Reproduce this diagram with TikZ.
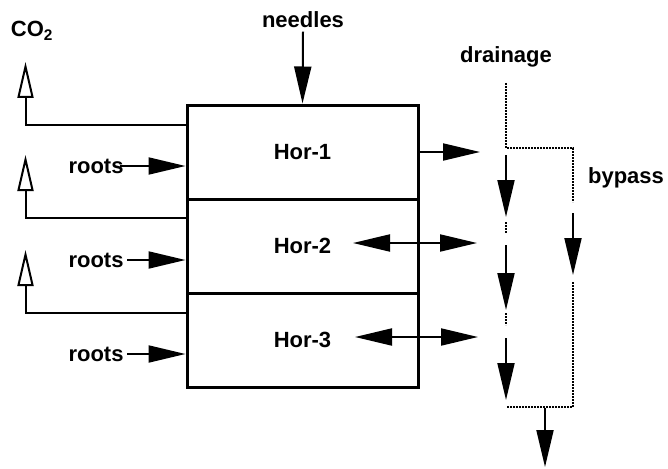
\documentclass[tikz,border=0pt]{standalone}
\usepackage{fontspec}
\setmainfont{Liberation Sans}
\usetikzlibrary{arrows.meta}
\tikzset{
	hor/.style={draw,line width=3pt,minimum width=231pt,minimum height=94pt,inner sep=0pt,name=#1},
	lbl/.style={font=\fontsize{22}{24}\selectfont\bfseries},
	flow/.style={line width=2pt,-{Triangle[length=37pt,width=17pt]}},
	flows/.style={line width=2pt,{Triangle[length=37pt,width=17pt]}-{Triangle[length=37pt,width=17pt]}},
	gas/.style={line width=2pt,-{Triangle[open,length=36pt,width=16pt,fill=white]}},
	dots/.style={line width=2.2pt,dash pattern=on 1.8pt off 1.2pt}
}

\begin{document}
\begin{tikzpicture}[x=1pt,y=-1pt]
	\useasboundingbox (0,0) rectangle (668,468);
	\node [hor=hor1,lbl] at (302.5,152) {Hor-1};
	\node [hor=hor2,lbl] at (302.5,246) {Hor-2};
	\node [hor=hor3,lbl] at (302.5,340) {Hor-3};

	\node [lbl] (needles) at (303,20) {needles};
	\node [lbl] (co2) at (32,31) {CO\textsubscript{2}};
	\node [lbl] (drainage) at (506,57) {drainage};
	\node [lbl] (bypass) at (626,178) {bypass};
	\node [lbl] (roots1) at (96,166) {roots};
	\node [lbl] (roots2) at (96,260) {roots};
	\node [lbl] (roots3) at (96,354) {roots};

	\draw [flow] (needles.south) -- (hor1.north);
	\draw [flow,shorten <=-7pt] (roots1.east) -- (hor1.west |- roots1);
	\draw [flow] (roots2.east) -- (hor2.west |- roots2);
	\draw [flow] (roots3.east) -- (hor3.west |- roots3);
	\foreach \i/\y in {1/125,2/218,3/313}
		\draw [gas] (hor\i.west |- 0,\y) -| ++(-160,-63);

	\coordinate (out1) at (480,152);
	\coordinate (in2) at (353,243);
	\coordinate (out2) at (477,243);
	\coordinate (in3) at (355,337);
	\coordinate (out3) at (478,337);
	\draw [flow] (hor1.east) -- (out1);
	\draw [flows] (in2) -- (out2);
	\draw [flows] (in3) -- (out3);

	\coordinate (d0) at (506,83);
	\coordinate (d1) at (506,148);
	\coordinate (d9) at (507,407);
	\coordinate (b1) at (573,148);
	\coordinate (b9) at (573,407);
	\draw [dots] (d0) -- (d1) -- (b1) -- (573,202);
	\draw [dots] (573,282) -- (b9) -- (d9);
	\draw [flow] (573,213) -- (573,275);
	\draw [dots] (506,222) -- (506,233);
	\draw [dots] (506,313) -- (506,325);
	\foreach \a/\b in {155/217,245/310,338/400}
		\draw [flow] (506,\a) -- (506,\b);
	\draw [flow] (545,408) -- (545,467);
\end{tikzpicture}
\end{document}
